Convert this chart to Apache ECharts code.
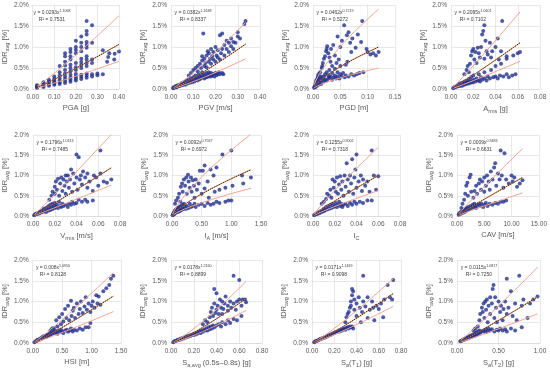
<!DOCTYPE html>
<html><head><meta charset="utf-8">
<script src="https://cdn.jsdelivr.net/npm/echarts@6/dist/echarts.min.js"></script>
<style>html,body{margin:0;padding:0;background:#fff}#c{width:550px;height:370px}</style>
</head><body><div id="c"></div>
<script>
// ---- data: [x, IDR_avg in %] ----
const pga = [[0.02,0.03],[0.02,0.05],[0.02,0.07],[0.02,0.09],[0.05,0.05],[0.05,0.08],[0.05,0.1],[0.05,0.13],[0.05,0.16],
[0.075,0.08],[0.075,0.11],[0.075,0.14],[0.075,0.18],[0.075,0.22],[0.1,0.1],[0.1,0.13],[0.1,0.16],[0.1,0.2],[0.1,0.24],[0.1,0.3],
[0.125,0.12],[0.125,0.16],[0.125,0.2],[0.125,0.26],[0.125,0.32],[0.125,0.4],[0.125,0.55],
[0.15,0.14],[0.15,0.19],[0.15,0.24],[0.15,0.3],[0.15,0.37],[0.15,0.45],[0.15,0.56],[0.15,0.65],[0.15,0.78],[0.15,0.85],
[0.175,0.17],[0.175,0.22],[0.175,0.27],[0.175,0.34],[0.175,0.42],[0.175,0.5],[0.175,0.58],[0.175,0.7],[0.175,0.78],[0.175,0.88],[0.175,0.95],
[0.2,0.2],[0.2,0.25],[0.2,0.3],[0.2,0.36],[0.2,0.45],[0.2,0.52],[0.2,0.62],[0.2,0.85],[0.2,0.93],[0.2,1.0],[0.2,1.15],
[0.225,0.24],[0.225,0.29],[0.225,0.34],[0.225,0.5],[0.225,0.57],[0.225,0.64],[0.225,0.72],[0.225,0.9],[0.225,1.0],[0.225,1.1],[0.225,1.25],
[0.25,0.27],[0.25,0.32],[0.25,0.37],[0.25,0.55],[0.25,0.62],[0.25,0.7],[0.25,0.78],[0.25,0.98],[0.25,1.05],[0.25,1.12],[0.25,1.3],[0.25,1.38],[0.25,1.62],
[0.275,0.3],[0.275,0.35],[0.275,0.62],[0.275,0.7],[0.275,1.1],[0.275,1.52],[0.3,0.33],[0.3,0.37],[0.325,0.35],[0.325,0.92],
[0.345,0.65],[0.35,0.76],[0.355,0.85],[0.378,0.7],[0.38,0.84],[0.4,0.89]];
const pgv = [[0.01,0.02],[0.012,0.04],[0.015,0.03],[0.02,0.05],[0.022,0.07],[0.025,0.04],[0.03,0.06],[0.03,0.09],[0.035,0.08],[0.04,0.1],[0.04,0.07],[0.045,0.12],[0.05,0.09],[0.05,0.14],[0.055,0.11],[0.06,0.13],[0.06,0.17],[0.065,0.1],[0.07,0.15],[0.07,0.2],[0.075,0.13],[0.08,0.17],[0.08,0.22],[0.085,0.15],[0.09,0.19],[0.09,0.25],[0.095,0.16],[0.1,0.2],[0.1,0.28],[0.105,0.18],[0.11,0.22],[0.11,0.32],[0.115,0.25],[0.12,0.2],[0.12,0.27],[0.125,0.35],[0.13,0.23],[0.13,0.3],[0.135,0.26],[0.14,0.32],[0.14,0.4],[0.145,0.28],[0.15,0.35],[0.15,0.25],[0.155,0.3],[0.16,0.38],[0.16,0.28],[0.165,0.33],[0.17,0.3],[0.17,0.4],[0.175,0.35],[0.18,0.3],[0.18,0.38],[0.185,0.33],[0.19,0.36],[0.195,0.3],[0.2,0.38],[0.205,0.33],[0.21,0.36],[0.215,0.4],[0.22,0.35],[0.23,0.38],[0.235,0.35],
[0.08,0.32],[0.09,0.38],[0.1,0.45],[0.11,0.5],[0.12,0.55],[0.12,0.42],[0.13,0.6],[0.135,0.5],[0.14,0.68],[0.14,0.78],[0.145,1.32],[0.15,0.55],[0.15,0.72],[0.155,0.62],[0.16,0.8],[0.16,0.52],[0.165,0.9],[0.17,0.65],[0.17,0.85],[0.175,0.72],[0.18,0.95],[0.18,0.6],[0.185,0.78],[0.19,0.88],[0.19,0.7],[0.2,0.65],[0.2,1.0],[0.205,0.8],[0.21,0.75],[0.21,0.92],[0.22,0.7],[0.22,1.28],[0.225,0.85],[0.23,1.32],[0.23,0.95],[0.24,0.8],[0.24,1.05],[0.25,0.95],[0.25,1.15],[0.26,0.88],[0.26,1.1],[0.27,1.02],[0.27,1.2],[0.28,0.95],[0.28,1.12],[0.29,1.1],[0.3,1.25],[0.3,1.35],[0.31,1.2],[0.33,1.55],[0.335,1.62]];
const pgd = [[0.002,0.03],[0.003,0.06],[0.004,0.1],[0.005,0.05],[0.005,0.15],[0.006,0.2],[0.007,0.08],[0.008,0.12],[0.008,0.25],[0.009,0.3],[0.01,0.1],[0.01,0.18],[0.01,0.35],[0.012,0.15],[0.012,0.22],[0.012,0.28],[0.013,0.4],[0.015,0.12],[0.015,0.2],[0.015,0.3],[0.016,0.5],[0.017,0.55],[0.018,0.25],[0.018,0.62],[0.02,0.18],[0.02,0.3],[0.02,0.72],[0.022,0.22],[0.022,0.35],[0.022,0.78],[0.024,0.9],[0.025,0.2],[0.025,0.4],[0.025,0.95],[0.026,1.02],[0.028,0.25],[0.028,0.32],[0.028,0.85],[0.03,0.28],[0.03,0.45],[0.03,0.75],[0.032,0.3],[0.032,0.65],[0.033,0.95],[0.035,0.22],[0.035,0.38],[0.035,0.55],[0.037,1.05],[0.038,0.28],[0.04,0.32],[0.04,0.48],[0.04,0.8],[0.042,0.25],[0.043,0.62],[0.045,0.3],[0.045,0.4],[0.045,1.25],[0.047,0.7],[0.048,0.25],[0.05,0.35],[0.05,0.55],[0.05,1.0],[0.052,0.3],[0.053,1.15],[0.055,0.38],[0.057,1.52],[0.058,0.28],[0.06,0.32],[0.06,0.58],[0.062,1.28],[0.063,0.65],[0.065,0.3],[0.065,1.35],[0.068,1.1],[0.07,0.35],[0.07,0.88],[0.072,1.2],[0.075,0.32],[0.078,0.98],[0.08,0.35],[0.082,1.3],[0.085,0.38],[0.088,1.12],[0.09,1.62],[0.092,0.4],[0.098,0.95],[0.1,0.88],[0.105,0.82],[0.11,0.85],[0.115,0.8],[0.12,0.88]];
const arms = [[0.002,0.02],[0.003,0.05],[0.004,0.04],[0.005,0.08],[0.006,0.06],[0.007,0.1],[0.008,0.07],[0.008,0.13],[0.009,0.1],[0.01,0.15],[0.01,0.08],[0.011,0.12],[0.012,0.18],[0.012,0.1],[0.013,0.14],[0.014,0.2],[0.014,0.12],[0.015,0.16],[0.016,0.24],[0.016,0.13],[0.017,0.18],[0.018,0.28],[0.018,0.15],[0.019,0.2],[0.02,0.32],[0.02,0.16],[0.021,0.22],[0.022,0.18],[0.023,0.25],[0.024,0.2],[0.025,0.35],[0.025,0.22],[0.026,0.18],[0.027,0.28],[0.028,0.22],[0.03,0.25],[0.03,0.4],[0.032,0.2],[0.033,0.3],[0.035,0.25],[0.036,0.45],[0.038,0.28],[0.04,0.3],[0.04,0.55],[0.042,0.25],[0.044,0.32],[0.045,0.6],[0.047,0.3],[0.05,0.35],[0.05,0.72],[0.052,0.28],[0.055,0.32],[0.056,0.8],[0.058,0.35],[0.06,0.85],[0.062,0.88],
[0.012,0.35],[0.014,0.45],[0.015,0.55],[0.016,0.4],[0.017,0.6],[0.018,0.8],[0.019,0.9],[0.02,0.95],[0.021,0.7],[0.022,0.88],[0.023,0.62],[0.024,0.98],[0.025,0.85],[0.026,0.75],[0.027,1.0],[0.028,1.3],[0.029,1.38],[0.03,1.52],[0.03,0.72],[0.031,1.15],[0.032,0.9],[0.033,0.82],[0.035,1.1],[0.036,0.75],[0.037,0.9],[0.04,1.0],[0.042,1.2],[0.043,0.7],[0.046,1.62],[0.045,0.9],[0.05,0.78]];
const vrms = [[0.001,0.02],[0.002,0.04],[0.003,0.06],[0.004,0.05],[0.005,0.08],[0.006,0.1],[0.006,0.06],[0.007,0.12],[0.008,0.09],[0.009,0.14],[0.01,0.11],[0.01,0.18],[0.011,0.14],[0.012,0.2],[0.012,0.1],[0.013,0.16],[0.014,0.24],[0.014,0.13],[0.015,0.2],[0.016,0.28],[0.016,0.15],[0.017,0.22],[0.018,0.3],[0.018,0.17],[0.019,0.25],[0.02,0.2],[0.02,0.32],[0.021,0.23],[0.022,0.28],[0.023,0.2],[0.024,0.35],[0.025,0.25],[0.026,0.22],[0.027,0.3],[0.028,0.25],[0.03,0.28],[0.032,0.22],[0.033,0.3],[0.035,0.28],[0.036,0.35],[0.038,0.3],[0.04,0.32],[0.042,0.4],[0.045,0.35],[0.048,0.4],[0.05,0.35],[0.055,0.38],
[0.015,0.4],[0.017,0.5],[0.018,0.6],[0.02,0.55],[0.02,0.72],[0.021,0.85],[0.022,0.65],[0.023,0.92],[0.024,0.5],[0.025,0.8],[0.026,0.95],[0.027,0.62],[0.028,0.9],[0.029,0.75],[0.03,1.0],[0.03,0.55],[0.031,0.85],[0.032,1.0],[0.033,0.7],[0.034,0.9],[0.035,1.15],[0.036,0.6],[0.037,1.05],[0.038,0.8],[0.04,1.52],[0.04,0.95],[0.041,0.65],[0.042,1.45],[0.043,0.9],[0.044,1.0],[0.045,0.78],[0.046,1.1],[0.048,0.95],[0.05,0.7],[0.05,1.05],[0.052,0.85],[0.055,0.62],[0.056,1.0],[0.058,0.95],[0.06,0.75],[0.062,1.62],[0.062,1.05],[0.065,0.85],[0.068,0.82],[0.072,0.9]];
const ia = [[0.01,0.02],[0.02,0.05],[0.03,0.04],[0.03,0.08],[0.04,0.1],[0.05,0.06],[0.05,0.13],[0.06,0.15],[0.07,0.09],[0.08,0.18],[0.08,0.12],[0.1,0.2],[0.1,0.1],[0.11,0.15],[0.12,0.22],[0.13,0.12],[0.14,0.18],[0.15,0.25],[0.16,0.15],[0.17,0.2],[0.18,0.28],[0.2,0.17],[0.2,0.3],[0.22,0.22],[0.24,0.18],[0.25,0.25],[0.28,0.2],[0.3,0.3],[0.32,0.22],[0.35,0.25],[0.38,0.3],[0.4,0.22],[0.45,0.28],[0.5,0.3],[0.55,0.25],[0.6,0.32],[0.65,0.28],[0.7,0.3],[0.75,0.35],[0.8,0.32],[0.9,0.35],[0.95,0.38],[1.0,0.38],
[0.05,0.3],[0.07,0.38],[0.1,0.45],[0.12,0.55],[0.14,0.35],[0.15,0.72],[0.17,0.8],[0.18,0.6],[0.2,0.9],[0.22,0.75],[0.24,0.95],[0.25,0.55],[0.27,1.02],[0.28,0.85],[0.3,0.7],[0.32,0.95],[0.33,0.6],[0.35,0.88],[0.37,0.75],[0.38,0.45],[0.4,0.9],[0.42,0.65],[0.45,0.8],[0.47,1.12],[0.5,0.55],[0.52,1.12],[0.55,0.68],[0.55,1.25],[0.6,0.85],[0.62,0.45],[0.65,1.15],[0.7,1.0],[0.72,0.6],[0.75,1.2],[0.8,0.65],[0.85,1.52],[0.9,0.7],[1.0,1.62],[1.02,0.75],[1.18,1.0],[1.2,0.8],[1.33,0.95]];
const ic = [[0.001,0.02],[0.002,0.04],[0.003,0.06],[0.004,0.05],[0.005,0.09],[0.006,0.07],[0.007,0.12],[0.008,0.1],[0.009,0.15],[0.01,0.12],[0.01,0.18],[0.011,0.14],[0.012,0.22],[0.013,0.16],[0.014,0.25],[0.015,0.18],[0.016,0.28],[0.017,0.2],[0.018,0.3],[0.019,0.22],[0.02,0.25],[0.021,0.32],[0.022,0.22],[0.023,0.28],[0.024,0.35],[0.025,0.25],[0.026,0.3],[0.027,0.22],[0.028,0.28],[0.03,0.3],[0.032,0.25],[0.034,0.32],[0.036,0.28],[0.038,0.35],[0.04,0.3],[0.043,0.35],[0.046,0.32],[0.05,0.38],[0.054,0.38],
[0.008,0.3],[0.01,0.35],[0.012,0.42],[0.013,0.55],[0.015,0.5],[0.016,0.65],[0.017,0.45],[0.018,0.9],[0.019,0.7],[0.02,0.85],[0.021,0.6],[0.022,0.95],[0.023,0.55],[0.024,0.78],[0.025,0.98],[0.026,0.65],[0.027,0.85],[0.028,0.5],[0.029,1.0],[0.03,0.72],[0.031,1.3],[0.032,0.9],[0.033,0.6],[0.034,1.0],[0.035,0.8],[0.036,1.4],[0.037,0.55],[0.038,0.95],[0.039,1.15],[0.04,1.52],[0.04,0.7],[0.042,0.85],[0.044,1.0],[0.045,0.62],[0.046,0.9],[0.048,0.75],[0.05,0.85],[0.052,0.6],[0.054,1.62],[0.056,1.0],[0.058,0.65],[0.06,0.98]];
const cav = [[0.3,0.03],[0.4,0.06],[0.5,0.05],[0.6,0.08],[0.7,0.1],[0.8,0.06],[1.0,0.12],[1.1,0.08],[1.2,0.15],[1.4,0.1],[1.5,0.18],[1.6,0.12],[1.8,0.2],[2.0,0.15],[2.1,0.22],[2.3,0.17],[2.5,0.25],[2.7,0.2],[2.9,0.28],[3.0,0.22],[3.2,0.3],[3.4,0.25],[3.5,0.2],[3.7,0.28],[4.0,0.3],[4.2,0.25],[4.5,0.3],[4.8,0.22],[5.0,0.28],[5.3,0.32],[5.6,0.25],[6.0,0.3],[6.5,0.28],[7.0,0.32],[7.5,0.3],[8.0,0.35],[8.5,0.35],[9.0,0.38],
[0.8,0.2],[1.0,0.3],[1.3,0.4],[1.5,0.55],[1.7,0.75],[1.9,0.82],[2.0,0.5],[2.3,0.95],[2.5,1.02],[2.6,0.6],[3.0,0.45],[3.2,0.62],[3.5,0.75],[3.7,0.55],[4.0,0.8],[4.2,0.9],[4.4,0.65],[4.6,0.85],[5.0,0.95],[5.0,0.6],[5.3,0.75],[5.5,1.0],[5.8,0.85],[6.0,0.65],[6.2,1.1],[6.5,0.9],[6.8,1.2],[7.0,1.3],[7.2,0.75],[7.5,1.05],[7.8,0.9],[8.0,1.62],[8.2,1.0],[8.5,0.7],[8.7,1.55],[9.0,0.9],[9.5,0.8],[10.0,1.0],[10.2,0.85],[10.5,0.95],[11.0,0.72],[11.5,0.8],[12.0,0.88]];
const hsi = [[0.03,0.02],[0.05,0.04],[0.07,0.05],[0.08,0.08],[0.1,0.07],[0.12,0.1],[0.14,0.09],[0.15,0.13],[0.17,0.12],[0.18,0.16],[0.2,0.14],[0.22,0.18],[0.24,0.15],[0.25,0.2],[0.27,0.18],[0.28,0.22],[0.3,0.2],[0.32,0.25],[0.33,0.22],[0.35,0.28],[0.37,0.24],[0.38,0.3],[0.4,0.26],[0.42,0.22],[0.44,0.3],[0.46,0.26],[0.48,0.32],[0.5,0.28],[0.52,0.24],[0.55,0.3],[0.58,0.32],[0.6,0.27],[0.63,0.3],[0.65,0.35],[0.68,0.28],[0.7,0.32],[0.75,0.3],[0.8,0.35],[0.85,0.32],[0.9,0.38],[0.95,0.38],[0.98,0.48],
[0.3,0.3],[0.33,0.35],[0.36,0.36],[0.4,0.55],[0.42,0.4],[0.45,0.62],[0.48,0.45],[0.5,0.7],[0.52,0.52],[0.55,0.82],[0.57,0.6],[0.6,0.9],[0.62,0.55],[0.65,1.02],[0.66,0.65],[0.68,0.78],[0.7,0.85],[0.72,0.6],[0.75,0.95],[0.78,0.7],[0.8,0.82],[0.82,1.0],[0.85,0.72],[0.88,0.88],[0.9,1.1],[0.92,0.8],[0.95,0.95],[0.98,0.75],[1.0,0.9],[1.02,1.0],[1.05,0.85],[1.08,1.15],[1.1,0.95],[1.12,1.12],[1.15,0.92],[1.2,1.25],[1.25,1.32],[1.3,1.4],[1.33,1.55],[1.37,1.62]];
const saAvg = [[0.02,0.02],[0.03,0.04],[0.04,0.05],[0.05,0.06],[0.06,0.08],[0.07,0.07],[0.08,0.1],[0.09,0.09],[0.1,0.12],[0.11,0.11],[0.12,0.14],[0.13,0.13],[0.14,0.16],[0.15,0.15],[0.16,0.18],[0.17,0.17],[0.18,0.2],[0.19,0.19],[0.2,0.22],[0.21,0.2],[0.22,0.24],[0.23,0.22],[0.24,0.25],[0.25,0.28],[0.26,0.24],[0.27,0.3],[0.28,0.27],[0.29,0.32],[0.3,0.3],[0.31,0.35],[0.32,0.3],[0.33,0.38],[0.34,0.33],[0.35,0.4],[0.36,0.35],[0.37,0.42],[0.38,0.38],[0.4,0.42],[0.42,0.45],[0.44,0.4],[0.45,0.5],[0.48,0.45],[0.5,0.55],[0.52,0.48],[0.55,0.58],[0.58,0.55],[0.62,0.65],
[0.28,0.45],[0.3,0.55],[0.32,0.5],[0.34,0.62],[0.35,0.75],[0.36,0.85],[0.37,0.65],[0.38,0.95],[0.38,1.3],[0.39,0.72],[0.4,1.2],[0.4,0.8],[0.41,0.9],[0.42,0.7],[0.43,1.05],[0.44,0.85],[0.45,1.0],[0.45,0.7],[0.46,0.82],[0.47,0.95],[0.48,1.12],[0.5,0.78],[0.5,0.9],[0.52,1.0],[0.53,0.85],[0.55,0.95],[0.55,1.62],[0.57,0.8],[0.58,1.0],[0.6,1.52],[0.6,1.05],[0.62,0.9],[0.63,1.05],[0.65,1.05],[0.66,0.98]];
const saT1 = [[0.02,0.02],[0.03,0.04],[0.04,0.05],[0.05,0.06],[0.06,0.07],[0.07,0.09],[0.08,0.1],[0.09,0.11],[0.1,0.12],[0.11,0.13],[0.12,0.14],[0.13,0.15],[0.14,0.17],[0.15,0.18],[0.16,0.19],[0.17,0.2],[0.18,0.22],[0.19,0.23],[0.2,0.24],[0.21,0.26],[0.22,0.27],[0.23,0.28],[0.24,0.3],[0.25,0.28],[0.26,0.32],[0.27,0.3],[0.28,0.33],[0.29,0.35],[0.3,0.32],[0.31,0.36],[0.32,0.38],[0.33,0.35],[0.34,0.4],[0.35,0.38],[0.36,0.4],[0.37,0.35],
[0.3,0.5],[0.31,0.62],[0.32,0.7],[0.33,0.75],[0.34,0.85],[0.35,0.9],[0.35,1.0],[0.36,1.15],[0.36,1.3],[0.37,1.25],[0.38,1.05],[0.38,0.8],[0.4,0.95],[0.4,0.65],[0.42,1.1],[0.43,0.85],[0.44,0.5],[0.45,0.75],[0.46,1.62],[0.46,1.0],[0.48,0.88],[0.5,1.1],[0.5,0.6],[0.52,0.8],[0.54,1.0],[0.55,0.85],[0.56,0.55],[0.58,0.9],[0.6,0.82],[0.62,0.95],[0.64,0.62],[0.65,1.05],[0.68,1.4],[0.7,1.1],[0.72,1.05],[0.73,1.52]];
const saT2 = [[0.04,0.04],[0.05,0.05],[0.06,0.06],[0.07,0.08],[0.08,0.07],[0.09,0.1],[0.1,0.09],[0.11,0.12],[0.12,0.1],[0.13,0.14],[0.14,0.12],[0.15,0.16],[0.16,0.14],[0.17,0.18],[0.18,0.15],[0.19,0.2],[0.2,0.17],[0.21,0.22],[0.22,0.18],[0.23,0.25],[0.24,0.2],[0.25,0.28],[0.26,0.22],[0.27,0.3],[0.28,0.25],[0.3,0.28],[0.32,0.3],[0.34,0.26],[0.35,0.33],[0.37,0.28],[0.38,0.35],[0.4,0.3],[0.42,0.33],[0.45,0.28],[0.48,0.32],[0.5,0.3],[0.52,0.35],[0.55,0.3],[0.58,0.33],[0.6,0.28],[0.65,0.35],[0.7,0.3],[0.78,0.38],
[0.2,0.3],[0.22,0.35],[0.25,0.4],[0.27,0.55],[0.28,0.7],[0.3,0.85],[0.31,0.75],[0.32,0.95],[0.33,0.6],[0.34,1.0],[0.35,0.8],[0.36,1.05],[0.37,0.5],[0.38,0.9],[0.4,1.1],[0.4,0.7],[0.42,0.95],[0.43,1.3],[0.44,1.4],[0.45,0.6],[0.46,1.1],[0.47,0.85],[0.48,0.5],[0.5,1.0],[0.52,0.75],[0.53,0.9],[0.55,0.55],[0.56,0.82],[0.58,1.0],[0.6,1.55],[0.6,0.7],[0.62,0.85],[0.65,1.25],[0.67,0.65],[0.7,0.95],[0.72,0.55],[0.75,1.62],[0.78,0.9],[0.8,1.05],[0.85,0.6],[0.88,0.95],[0.92,1.05],[0.97,1.12]];

// axis names, fit equations (as printed), R², band factors
const xNames = ['{n|PGA [g]}','{n|PGV [m/s]}','{n|PGD [m]}','{n|A}{s|rms}{n| [g]}',
 '{n|V}{s|rms}{n| [m/s]}','{n|I}{s|A}{n| [m/s]}','{n|I}{s|C}','{n|CAV [m/s]}',
 '{n|HSI [m]}','{n|S}{s|a,avg}{n| (0.5s–0.8s) [g]}','{n|S}{s|a}{n|(T}{s|1}{n|) [g]}','{n|S}{s|a}{n|(T}{s|2}{n|) [g]}'];
const coefA = ['0.0293','0.0382','0.0462','0.2095','0.1796','0.0092','0.1255','0.0009','0.008','0.0178','0.0171','0.0115'];
const coefB = ['1.1068','1.1638','0.7219','1.0601','1.0313','0.7567','0.9002','0.9483','1.0950','1.2160','1.1469','1.0817'];
const r2 = ['0.7531','0.8337','0.5272','0.7102','0.7485','0.6972','0.7318','0.6631','0.8128','0.8899','0.9098','0.7250'];
const upF = [1.64,1.48,1.9,1.67,1.69,1.77,1.7,1.75,1.5,1.38,1.3,1.64];
const loF = [0.62,0.67,0.5,0.6,0.64,0.6,0.63,0.6,0.67,0.73,0.74,0.63];
const xMax = [0.4,0.4,0.15,0.08,0.08,1.5,0.08,15,1.5,0.8,0.8,1.0];
const xInt = [0.1,0.1,0.05,0.02,0.02,0.5,0.02,5,0.5,0.2,0.2,0.5];
const datasets = [pga,pgv,pgd,arms,vrms,ia,ic,cav,hsi,saAvg,saT1,saT2];

// layout [left, top, width, height]
const layout = [[30,5,89,84],[171,5,89,84],[313,5,82,84],[451,5,89,84],
 [33,135,87,81],[172,135,89,81],[313,135,87,81],[457,135,85,81],
 [31,260,90,83],[171,260,91,83],[312,260,89,83],[457,260,83,83]];

const txt = '#595959', gridC = '#D9D9D9';
const grids=[], xAxes=[], yAxes=[], series=[], graphics=[];
datasets.forEach((d,i)=>{
  const [l,t,w,h] = layout[i];
  grids.push({left:l, top:t, width:w, height:h});
  xAxes.push({type:'value', gridIndex:i, min:0, max:xMax[i], interval:xInt[i],
    name:xNames[i], nameLocation:'middle', nameGap:15,
    nameTextStyle:{rich:{n:{fontSize:7.5,color:txt,fontFamily:'Liberation Sans'},s:{fontSize:5.5,color:txt,fontFamily:'Liberation Sans',verticalAlign:'bottom',padding:[4,0,0,0]}}},
    axisLabel:{fontSize:6.5,color:txt,margin:5,fontFamily:'Liberation Sans',formatter:v=>v.toFixed(2)},
    axisTick:{show:false}, axisLine:{lineStyle:{color:gridC,width:0.8}},
    splitLine:{show:true,lineStyle:{color:gridC,width:0.6}}});
  yAxes.push({type:'value', gridIndex:i, min:0, max:2, interval:0.5,
    name:'{n|IDR}{s|avg}{n| [%]}', nameLocation:'middle', nameGap:21,
    nameTextStyle:{rich:{n:{fontSize:7.5,color:txt,fontFamily:'Liberation Sans'},s:{fontSize:5.5,color:txt,fontFamily:'Liberation Sans',verticalAlign:'bottom',padding:[4,0,0,0]}}},
    axisLabel:{fontSize:6.5,color:txt,margin:4,fontFamily:'Liberation Sans',formatter:v=>v.toFixed(1)+'%'},
    axisTick:{show:false}, axisLine:{show:false},
    splitLine:{show:true,lineStyle:{color:gridC,width:0.6}}});
  series.push({type:'scatter', xAxisIndex:i, yAxisIndex:i, data:d, symbolSize:4,
    itemStyle:{color:'#23318F'}, z:3, silent:true});
  // fitted power curve from the printed equation, over the data x-range
  const xs = d.map(p=>p[0]);
  const x0 = Math.min(...xs), x1 = Math.max(...xs);
  const a = parseFloat(coefA[i]), b = parseFloat(coefB[i]);
  const curve = f => { const arr=[]; for(let k=0;k<=40;k++){const x=x0+(x1-x0)*k/40; arr.push([x, a*Math.pow(x,b)*100*f]);} return arr; };
  const base = {type:'line', xAxisIndex:i, yAxisIndex:i, showSymbol:false, symbol:'none', silent:true, z:4};
  series.push(Object.assign({}, base, {data:curve(upF[i]), lineStyle:{color:'#F2A48E',width:1}}));
  series.push(Object.assign({}, base, {data:curve(loF[i]), lineStyle:{color:'#F2A48E',width:1}}));
  series.push(Object.assign({}, base, {data:curve(1), lineStyle:{color:'#ED7D31',width:1}}));
  series.push(Object.assign({}, base, {data:curve(1), z:5, lineStyle:{color:'#222',width:1,type:[1.2,1.2]}}));
  graphics.push({type:'text', x:l+22, y:t+4, z:10, silent:true,
    style:{text:'{t|y = '+coefA[i]+'x}{p|'+coefB[i]+'}\n{t|R² = '+r2[i]+'}', align:'center', verticalAlign:'top',
      rich:{t:{fontSize:5,fill:'#404040',fontFamily:'Liberation Sans',lineHeight:7},p:{fontSize:3.6,fill:'#404040',fontFamily:'Liberation Sans',verticalAlign:'top',lineHeight:7}}}});
});

const chart = echarts.init(document.getElementById('c'), null, {renderer:'canvas'});
chart.setOption({backgroundColor:'#fff', animation:false, grid:grids, xAxis:xAxes, yAxis:yAxes, series:series, graphic:graphics});
</script></body></html>
